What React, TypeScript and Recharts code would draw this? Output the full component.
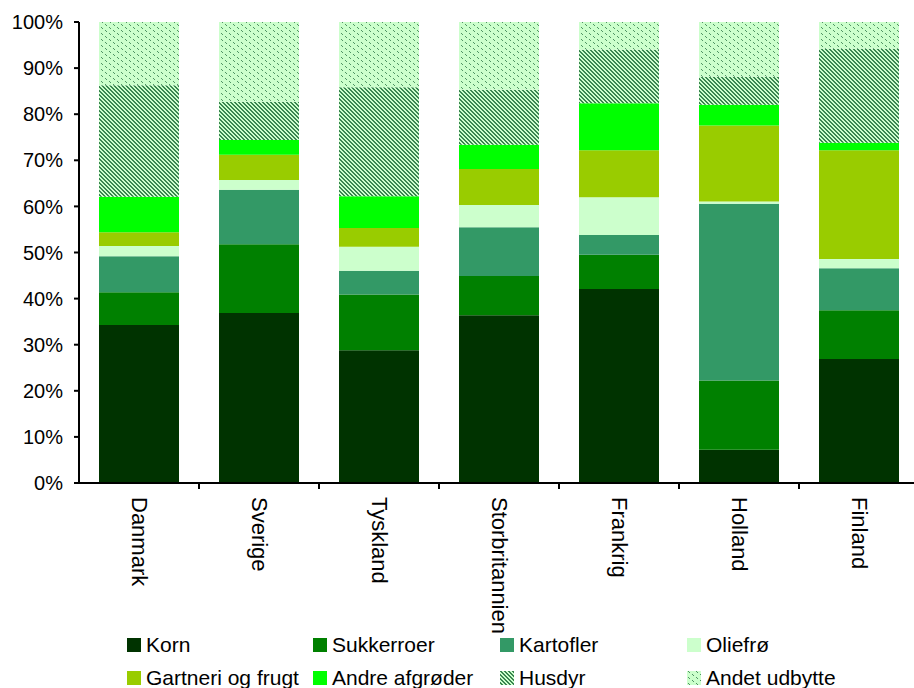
import React from "react";
import { BarChart, Bar, XAxis, YAxis } from "recharts";

// --- data ---
const CATEGORIES = ["Danmark", "Sverige", "Tyskland", "Storbritannien", "Frankrig", "Holland", "Finland"];
const KORN = [34.3, 36.9, 28.9, 36.4, 42.1, 7.2, 26.9];
const SUKKERROER = [7.1, 14.9, 12.1, 8.5, 7.4, 15.1, 10.6];
const KARTOFLER = [7.8, 11.8, 5.2, 10.6, 4.3, 38.4, 9.1];
const OLIEFRO = [2.2, 2.1, 5.2, 4.8, 8.2, 0.5, 2.0];
const GARTNERI = [3.0, 5.5, 4.1, 7.8, 10.2, 16.5, 23.6];
const ANDRE = [7.7, 3.2, 6.9, 5.3, 10.2, 4.5, 1.6];
const HUSDYR = [24.2, 8.3, 23.7, 11.9, 11.6, 6.1, 20.4];
const ANDET = [13.7, 17.3, 14.2, 14.7, 6.0, 11.9, 5.8];
const Y_TICKS = [0, 10, 20, 30, 40, 50, 60, 70, 80, 90, 100];

const SERIES = [
    { key: "korn", name: "Korn", values: KORN, fill: "#003300" },
    { key: "sukker", name: "Sukkerroer", values: SUKKERROER, fill: "#008000" },
    { key: "kartofler", name: "Kartofler", values: KARTOFLER, fill: "#339966" },
    { key: "oliefro", name: "Oliefrø", values: OLIEFRO, fill: "#CCFFCC" },
    { key: "gartneri", name: "Gartneri og frugt", values: GARTNERI, fill: "#99CC00" },
    { key: "andre", name: "Andre afgrøder", values: ANDRE, fill: "#00FF00" },
    { key: "husdyr", name: "Husdyr", values: HUSDYR, fill: "url(#husdyrPattern)" },
    { key: "andet", name: "Andet udbytte", values: ANDET, fill: "url(#andetPattern)" },
];

const data = CATEGORIES.map((land, i) => {
    const row: any = { land };
    SERIES.forEach((s) => { row[s.key] = s.values[i]; });
    return row;
});

// --- layout ---
const FONT = '"Liberation Sans", Arial, sans-serif';
const CHART_W = 920;
const CHART_H = 688;
const MARGIN = { top: 22, right: 1, left: 0, bottom: 55 };
const Y_W = 79;
const PLOT_W = CHART_W - MARGIN.left - MARGIN.right - Y_W;
const HALF_BAND = PLOT_W / CATEGORIES.length / 2;

const XTick = ({ x, y, payload, index }: any) => (
    <g>
        {index < CATEGORIES.length - 1 && (
            <line x1={x + HALF_BAND} x2={x + HALF_BAND} y1={y} y2={y + 6} stroke="#000" strokeWidth={2} />
        )}
        <text
            x={x}
            y={y + 14}
            transform={`rotate(90, ${x}, ${y + 14})`}
            textAnchor="start"
            dominantBaseline="central"
            fontFamily={FONT}
            fontSize={22}
            fill="#000"
        >
            {payload.value}
        </text>
    </g>
);

const Swatch = ({ fill }: { fill: string }) => (
    <svg width={14} height={14} style={{ marginRight: 5, flexShrink: 0 }}>
        <rect x={0} y={0} width={14} height={14} fill={fill} />
    </svg>
);

export default function App() {
    return (
        <div style={{ position: "absolute", left: 0, top: 0, width: 914, height: 688, overflow: "hidden", background: "#fff" }}>
            <BarChart
                width={CHART_W}
                height={CHART_H}
                data={data}
                margin={MARGIN}
                stackOffset="expand"
                barCategoryGap={20}
            >
                <defs>
                    <pattern id="husdyrPattern" width={4} height={4} patternUnits="userSpaceOnUse">
                        <rect width={4} height={4} fill="#CCFFCC" />
                        <rect x={0} y={0} width={2} height={1} fill="#3a8550" />
                        <rect x={1} y={1} width={2} height={1} fill="#3a8550" />
                        <rect x={2} y={2} width={2} height={1} fill="#3a8550" />
                        <rect x={3} y={3} width={1} height={1} fill="#3a8550" />
                        <rect x={0} y={3} width={1} height={1} fill="#3a8550" />
                    </pattern>
                    <pattern id="andetPattern" width={8} height={6} patternUnits="userSpaceOnUse">
                        <rect width={8} height={6} fill="#CCFFCC" />
                        <rect x={1} y={0} width={1} height={1} fill="#4f9463" />
                        <rect x={2} y={1} width={1} height={1} fill="#4f9463" />
                        <rect x={5} y={3} width={1} height={1} fill="#4f9463" />
                        <rect x={6} y={4} width={1} height={1} fill="#4f9463" />
                    </pattern>
                </defs>
                <XAxis
                    dataKey="land"
                    height={150}
                    interval={0}
                    tickSize={0}
                    tickMargin={0}
                    tickLine={false}
                    axisLine={{ stroke: "#000", strokeWidth: 2 }}
                    tick={<XTick />}
                />
                <YAxis
                    width={Y_W}
                    domain={[0, 1]}
                    ticks={Y_TICKS.map((t) => t / 100)}
                    tickFormatter={(v: number) => `${Math.round(v * 100)}%`}
                    tickSize={5}
                    tickMargin={11}
                    tickLine={{ stroke: "#000", strokeWidth: 2 }}
                    axisLine={{ stroke: "#000", strokeWidth: 2 }}
                    tick={{ fill: "#000", fontSize: 20, fontFamily: FONT }}
                    allowDataOverflow
                />
                {SERIES.map((s) => (
                    <Bar
                        key={s.key}
                        dataKey={s.key}
                        name={s.name}
                        stackId="a"
                        fill={s.fill}
                        isAnimationActive={false}
                    />
                ))}
            </BarChart>

            {/* legend */}
            <div
                style={{
                    position: "absolute",
                    left: 127,
                    top: 636,
                    display: "grid",
                    gridTemplateColumns: "186px 187px 187px 187px",
                    rowGap: 15,
                    fontFamily: FONT,
                    fontSize: 21,
                    color: "#000",
                }}
            >
                {SERIES.map((s) => (
                    <div key={s.key} style={{ display: "flex", alignItems: "center", height: 18, whiteSpace: "nowrap" }}>
                        <Swatch fill={s.fill} />
                        <span style={{ lineHeight: "18px" }}>{s.name}</span>
                    </div>
                ))}
            </div>
        </div>
    );
}
